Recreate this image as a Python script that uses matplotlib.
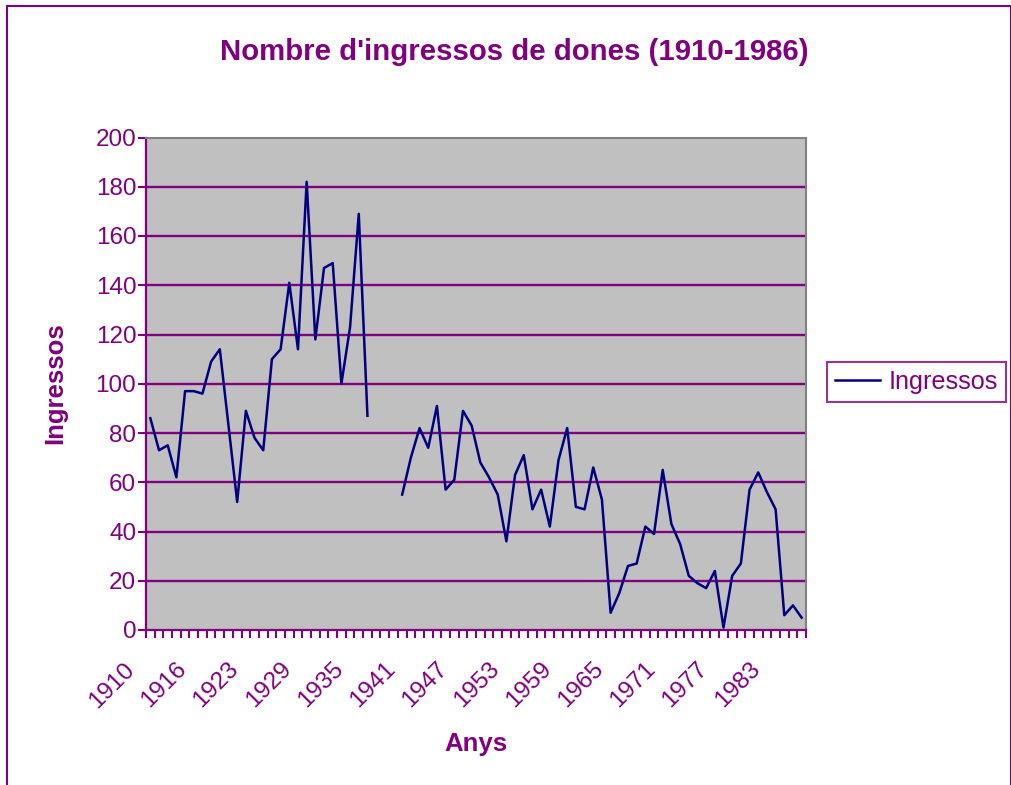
import numpy as np
import matplotlib
matplotlib.use("Agg")
import matplotlib.pyplot as plt
import matplotlib.transforms as mtransforms
from matplotlib.patches import Rectangle

plt.rcParams['font.family'] = ['Liberation Sans', 'DejaVu Sans']

# ---- data ----
years = list(range(1910, 1917)) + list(range(1918, 1987))
ingressos = [86, 73, 75, 62, 97, 97, 96, 109, 114, 83,
             52, 89, 78, 73, 110, 114, 141, 114, 182, 118,
             147, 149, 100, 123, 169, 87, None, None, None, 55,
             70, 82, 74, 91, 57, 61, 89, 83, 68, 62,
             55, 36, 63, 71, 49, 57, 42, 69, 82, 50,
             49, 66, 53, 7, 15, 26, 27, 42, 39, 65,
             43, 35, 22, 19, 17, 24, 1, 22, 27, 57,
             64, 56, 49, 6, 10, 5]
title = "Nombre d'ingressos de dones (1910-1986)"
xlabel = "Anys"
ylabel = "Ingressos"
series_name = "Ingressos"
yticks = list(range(0, 201, 20))

PURPLE = '#800080'
NAVY = '#000080'
GRAY_BG = '#C0C0C0'

W, H = 1012, 785
fig = plt.figure(figsize=(W / 100, H / 100), dpi=100)
fig.patch.set_facecolor('white')

left, right, top, bottom = 146, 806, 137.5, 630
ax = fig.add_axes([left / W, 1 - bottom / H, (right - left) / W, (bottom - top) / H])
ax.set_facecolor(GRAY_BG)

x = np.arange(len(years))
y = np.array([np.nan if v is None else v for v in ingressos], dtype=float)
ax.plot(x, y, color=NAVY, lw=1.8, label=series_name, zorder=3)

ax.set_xlim(-0.5, len(years) - 0.5)
ax.set_ylim(0, 200)

# y axis
ax.set_yticks(yticks)
ax.tick_params(axis='y', direction='out', length=6, width=1.5, color=PURPLE,
               labelcolor=PURPLE, labelsize=17.5, pad=1)
for yv in yticks[1:-1]:
    ax.axhline(yv, color=PURPLE, lw=1.7, zorder=1)

# x axis: tick marks at category boundaries, labels every 6 categories
ax.set_xticks(np.arange(-0.5, len(years), 1.0), minor=True)
lab_idx = list(range(0, len(years), 6))
ax.set_xticks(lab_idx)
ax.set_xticklabels([str(years[i]) for i in lab_idx], rotation=45,
                   ha='right', va='center', rotation_mode='anchor')
ax.tick_params(axis='x', which='major', length=0, labelcolor=PURPLE,
               labelsize=17.5, pad=0)
ax.tick_params(axis='x', which='minor', direction='out', length=6, width=1.5,
               color=PURPLE)
offset = mtransforms.ScaledTranslation(-19.0 / 100, -36.0 / 100, fig.dpi_scale_trans)
for lbl in ax.get_xticklabels():
    lbl.set_transform(lbl.get_transform() + offset)

for s in ['left', 'bottom']:
    ax.spines[s].set_color(PURPLE)
    ax.spines[s].set_linewidth(1.6)
for s in ['top', 'right']:
    ax.spines[s].set_color('#808080')
    ax.spines[s].set_linewidth(1.5)

# texts
fig.text(514 / W, 1 - 52 / H, title, ha='center', va='center', fontsize=21.2,
         fontweight='bold', color=PURPLE)
fig.text(55 / W, 1 - 383 / H, ylabel, ha='center', va='center', rotation=90,
         fontsize=18.5, fontweight='bold', color=PURPLE)
fig.text(476 / W, 1 - 744 / H, xlabel, ha='center', va='center', fontsize=18.5,
         fontweight='bold', color=PURPLE)

leg = ax.legend(loc='center left', bbox_to_anchor=(827 / W, 1 - 382 / H),
                bbox_transform=fig.transFigure, borderaxespad=0, fontsize=18.2,
                frameon=True, fancybox=False, shadow=False, handlelength=1.8,
                handletextpad=0.35, borderpad=0.3, labelcolor=PURPLE)
leg.get_frame().set_edgecolor(PURPLE)
leg.get_frame().set_linewidth(1.5)
leg.get_frame().set_facecolor('white')

# outer chart border
fig.patches.append(Rectangle((7 / W, -0.02), 1004 / W, 1.02 - 6 / H, fill=False,
                             edgecolor=PURPLE, lw=1.5, transform=fig.transFigure))

fig.savefig('out.png', dpi=100)
